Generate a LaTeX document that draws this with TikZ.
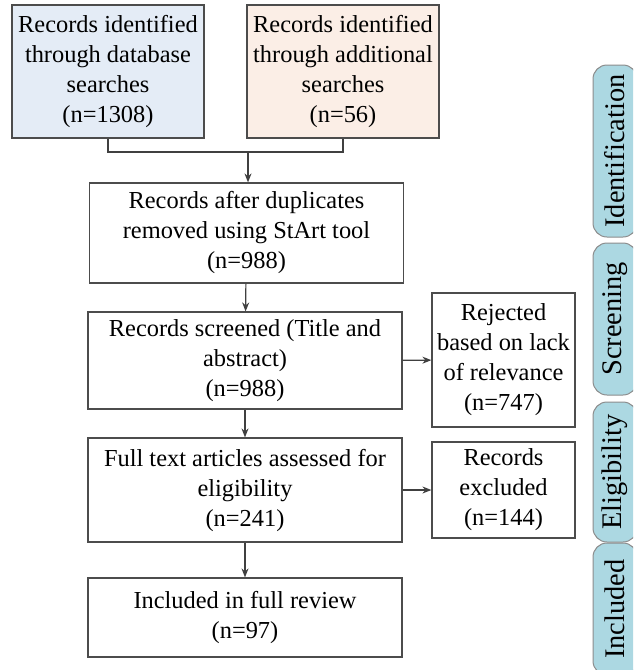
\documentclass[tikz,border=0pt]{standalone}
\usepackage{fontspec}
\setmainfont{Liberation Serif}
\usetikzlibrary{shapes,arrows.meta,positioning}

\begin{document}
\begin{tikzpicture}[x=0.5pt, y=-0.5pt,
    box/.style={rectangle, draw=black!70, line width=0.6pt, fill=white, align=center, inner sep=2pt, font=\fontsize{12.2}{15}\selectfont},
    source/.style={box, minimum width=96pt, minimum height=66.5pt},
    mainbox/.style={box, minimum width=157pt},
    sidebox/.style={box, minimum width=71.5pt},
    phase/.style={rectangle, rounded corners=7pt, draw=black!45, line width=0.5pt, fill=phaseblue, rotate=90, minimum height=22pt, inner sep=0pt, font=\fontsize{14.2}{16}\selectfont},
    flow/.style={-{Stealth[length=4.5pt, width=3.5pt]}, draw=black!75, line width=0.6pt}
]
    \definecolor{phaseblue}{RGB}{172,216,226}
    \useasboundingbox (0,0) rectangle (633,670);
    \clip (0,0) rectangle (633,670);

    % Sources
    \node[source, fill={rgb,255:red,228;green,236;blue,246}] (db) at (108,71.5) {Records identified\\through database\\searches\\(n=1308)};
    \node[source, fill={rgb,255:red,251;green,238;blue,230}] (add) at (343,71.5) {Records identified\\through additional\\searches\\(n=56)};

    % Etapes principales
    \node[mainbox, minimum height=50pt] (dup) at (246.5,233) {Records after duplicates\\removed using StArt tool\\(n=988)};
    \node[mainbox, minimum height=48.5pt] (screen) at (245,360.5) {Records screened (Title and\\abstract)\\(n=988)};
    \node[mainbox, minimum height=52pt] (full) at (245,490) {Full text articles assessed for\\eligibility\\(n=241)};
    \node[mainbox, minimum height=39.5pt] (incl) at (245,617.5) {Included in full review\\(n=97)};

    % Exclusions
    \node[sidebox, minimum height=67pt] (reject) at (503.5,360) {Rejected\\based on lack\\of relevance\\(n=747)};
    \node[sidebox, minimum height=48pt] (excl) at (503.5,490) {Records\\excluded\\(n=144)};

    % Phases
    \node[phase, minimum width=86pt] (ident) at (615,151) {Identification};
    \node[phase, minimum width=76pt] (scr) at (615,319) {Screening};
    \node[phase, minimum width=70pt] (elig) at (615,472) {Eligibility};
    \node[phase, minimum width=66pt] (inc) at (615,609) {Included};

    % Liaisons
    \coordinate (join) at (248,152);
    \draw[draw=black!75, line width=0.6pt] (db.south) -- (db.south |- join) -- (add.south |- join) -- (add.south);
    \draw[flow] (join) -- (join |- dup.north);
    \draw[flow] (dup) -- (screen);
    \draw[flow] (screen) -- (full);
    \draw[flow] (full) -- (incl);
    \draw[flow] (screen) -- (reject);
    \draw[flow] (full) -- (excl);

\end{tikzpicture}
\end{document}
